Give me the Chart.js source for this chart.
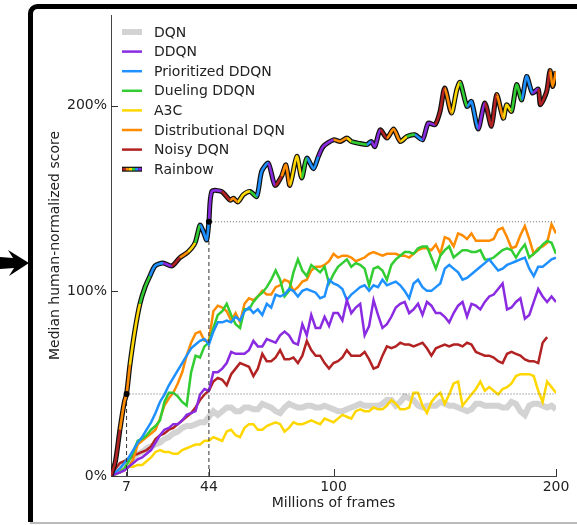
<!DOCTYPE html>
<html lang="en">
<head>
<meta charset="UTF-8">
<title>Median human-normalized score</title>
<script src="https://cdn.jsdelivr.net/npm/chart.js"></script>
<style>
  html, body { margin: 0; padding: 0; background: #fff; }
  canvas { display: block; }
</style>
</head>
<body>
<canvas id="chart" width="577" height="525"></canvas>
<script>
// frames in millions, one value every 2M frames
const frames = [
  0, 2, 4, 6, 8, 10, 12, 14, 16, 18,
  20, 22, 24, 26, 28, 30, 32, 34, 36, 38,
  40, 42, 44, 46, 48, 50, 52, 54, 56, 58,
  60, 62, 64, 66, 68, 70, 72, 74, 76, 78,
  80, 82, 84, 86, 88, 90, 92, 94, 96, 98,
  100, 102, 104, 106, 108, 110, 112, 114, 116, 118,
  120, 122, 124, 126, 128, 130, 132, 134, 136, 138,
  140, 142, 144, 146, 148, 150, 152, 154, 156, 158,
  160, 162, 164, 166, 168, 170, 172, 174, 176, 178,
  180, 182, 184, 186, 188, 190, 192, 194, 196, 198,
  200];

const dqn = [
  0, 2, 5, 7, 9, 10, 12, 13, 15, 16,
  17, 18, 20, 21, 23, 24, 26, 27, 27, 28,
  29, 29, 32, 35, 33, 35, 37, 37, 35, 35,
  37, 37, 36, 36, 39, 38, 37, 35, 34, 37,
  39, 38, 37, 37, 38, 38, 37, 37, 38, 37,
  36, 35, 35, 36, 37, 38, 39, 38, 38, 38,
  38, 39, 41, 41, 38, 40, 43, 42, 41, 38,
  37, 38, 38, 38, 40, 39, 38, 38, 37, 36,
  35, 36, 39, 39, 38, 38, 38, 38, 37, 37,
  40, 39, 35, 33, 38, 39, 39, 38, 37, 38,
  36];
const ddqn = [
  0, 1, 2, 3, 5, 7, 9, 10, 12, 14,
  18, 22, 25, 26, 28, 28, 30, 33, 34, 35,
  44, 47, 46, 56, 56, 58, 61, 67, 66, 66,
  66, 68, 73, 70, 70, 74, 73, 72, 76, 78,
  76, 72, 71, 82, 76, 87, 80, 80, 86, 81,
  88, 88, 84, 95, 88, 91, 93, 76, 81, 95,
  87, 80, 82, 86, 91, 93, 94, 88, 90, 93,
  87, 94, 92, 88, 88, 86, 83, 88, 92, 94,
  86, 93, 92, 90, 94, 97, 98, 101, 104, 90,
  91, 94, 96, 85, 87, 94, 101, 97, 94, 97,
  94];
const prioritized = [
  0, 2, 4, 7, 10, 14, 18, 21, 25, 29,
  34, 40, 44, 49, 53, 57, 61, 65, 69, 71,
  73, 74, 71, 78, 83, 83, 84, 83, 86, 84,
  89, 91, 88, 90, 87, 93, 91, 98, 97, 98,
  101, 100, 97, 100, 101, 100, 99, 96, 97, 106,
  104, 103, 101, 95, 98, 100, 102, 103, 100, 103,
  102, 106, 103, 104, 105, 103, 100, 96, 104, 106,
  102, 100, 100, 102, 104, 112, 114, 112, 110, 106,
  107, 109, 111, 113, 115, 117, 114, 111, 112, 114,
  115, 116, 117, 118, 112, 108, 113, 113, 115, 117,
  118];
const dueling = [
  0, 1, 2, 4, 8, 13, 19, 20, 22, 25,
  27, 30, 40, 45, 45, 43, 40, 38, 56, 65,
  64, 70, 72, 80, 87, 89, 93, 87, 82, 80,
  90, 90, 94, 97, 99, 102, 106, 111, 106, 97,
  100, 110, 117, 111, 108, 114, 112, 110, 113, 104,
  109, 113, 115, 117, 113, 115, 114, 112, 103, 112,
  113, 111, 106, 114, 117, 119, 121, 121, 120, 123,
  124, 124, 118, 112, 119, 122, 124, 118, 120, 122,
  122, 121, 121, 122, 117, 117, 118, 120, 122, 123,
  122, 118, 122, 125, 118, 120, 122, 125, 127, 126,
  120];
const a3c = [
  0, 1, 3, 4, 5, 5, 6, 6, 8, 10,
  13, 14, 13, 13, 12, 12, 14, 15, 16, 17,
  17, 19, 19, 21, 20, 19, 24, 25, 22, 21,
  26, 28, 28, 25, 25, 27, 28, 29, 28, 24,
  26, 29, 28, 28, 29, 30, 29, 28, 31, 30,
  29, 31, 33, 32, 31, 35, 36, 35, 35, 37,
  36, 36, 38, 41, 39, 36, 36, 37, 45, 45,
  38, 34, 40, 43, 45, 39, 44, 50, 51, 38,
  41, 44, 47, 51, 46, 48, 46, 44, 47, 48,
  50, 54, 55, 55, 55, 54, 46, 40, 51, 48,
  45];
const distributional = [
  0, 1, 2, 3, 5, 9, 17, 19, 21, 23,
  25, 31, 38, 42, 45, 50, 56, 65, 72, 77,
  78, 73, 73, 89, 92, 91, 89, 84, 88, 83,
  93, 96, 95, 97, 100, 98, 98, 102, 103, 106,
  105, 100, 102, 105, 106, 111, 113, 113, 114, 116,
  120, 118, 119, 119, 118, 116, 117, 118, 120, 121,
  120, 119, 120, 120, 120, 119, 119, 118, 120, 122,
  123, 123, 122, 125, 120, 129, 128, 124, 131, 130,
  128, 131, 127, 127, 127, 127, 128, 133, 134, 129,
  123, 124, 130, 135, 128, 120, 123, 124, 126, 136,
  131];
const noisy = [
  0, 4, 7, 8, 9, 11, 12, 13, 14, 16,
  20, 22, 23, 25, 26, 28, 30, 32, 34, 37,
  41, 44, 46, 51, 53, 52, 49, 55, 58, 61,
  60, 59, 54, 58, 66, 62, 62, 64, 68, 63,
  63, 64, 61, 65, 73, 68, 65, 65, 61, 58,
  61, 62, 64, 68, 65, 65, 65, 67, 63, 58,
  59, 65, 70, 69, 70, 72, 71, 71, 70, 71,
  72, 69, 65, 69, 70, 71, 70, 71, 71, 70,
  72, 71, 67, 66, 65, 65, 64, 62, 61, 66,
  67, 66, 65, 63, 62, 62, 61, 72, 75, null,
  null];

// Rainbow has its own sampling
const rainbowFrames = [0, 2, 4, 6, 7, 8.5, 10.8, 13, 15.3, 17.5, 19.8, 23.4, 27.4, 31, 34.6, 37.8, 40, 41.5, 43, 44,
  45.3, 49.7, 53.5, 55, 57, 59.5, 62.5, 65.5, 67.7, 70.7, 73.7, 76.7, 78.6, 80.4, 83.5, 85.7, 88, 91, 93.2, 95.4,
  100, 103, 106, 108, 111, 115, 117, 118.6, 121, 124, 127, 130, 133, 136.6, 140, 142.6, 145.6, 147.9, 150, 153,
  155.4, 156.9, 160, 162, 165, 168, 171, 173.3, 176.3, 177.8, 180, 182.3, 184.6, 186.8, 189.4, 192, 193, 195.8, 197.3, 198.5, 200];
const rainbowScore = [0, 8, 25, 40, 44.3, 60, 79, 93, 102, 108, 113.5, 115, 113.5, 118, 121, 126, 135.5, 132, 127.5, 137.3,
  153.7, 153.7, 149, 150, 148, 152, 153.7, 151, 164.5, 169, 157, 162, 168, 157, 172.6, 161, 171.7, 166, 172.6, 178,
  181.6, 180.7, 182.5, 180.7, 179.8, 179, 180.7, 178, 187, 182.5, 187.4, 180.7, 183.4, 184.3, 181.6, 190.6, 189.7, 197, 209.6, 196,
  208.6, 212.6, 199.6, 202.3, 187.4, 201.5, 189, 206, 193.3, 200.5, 197, 211.4, 203.2, 215.8, 206.9, 209, 200.5, 207.7, 219, 210.4, 218.6];

// where Rainbow matches DQN's final score and the best baselines
const markerFrames = [7, 44];
const markerScores = [44.3, 137.3];

const xTicks = [7, 44, 100, 200];
const yTicks = [0, 100, 200];

const RED = '#b22222', ORANGE = '#ff8c00', YELLOW = '#ffd700', GREEN = '#32cd32', BLUE = '#1e90ff', PURPLE = '#8a2be2';
const rainbowColors = [RED, ORANGE, YELLOW, GREEN, BLUE, PURPLE];
const FONT = { family: '"DejaVu Sans", sans-serif', size: 14 };
const TEXT = '#222';

function pts(xs, ys) {
  return xs.map((x, i) => ({ x: x, y: ys[i] }));
}

const series = [
  { label: 'DQN', values: dqn, color: '#d3d3d3', width: 6 },
  { label: 'DDQN', values: ddqn, color: PURPLE, width: 2.5 },
  { label: 'Prioritized DDQN', values: prioritized, color: BLUE, width: 2.5 },
  { label: 'Dueling DDQN', values: dueling, color: GREEN, width: 2.5 },
  { label: 'A3C', values: a3c, color: YELLOW, width: 2.5 },
  { label: 'Distributional DQN', values: distributional, color: ORANGE, width: 2.5 },
  { label: 'Noisy DQN', values: noisy, color: RED, width: 2.5 },
];

const datasets = [];
series.forEach((s, i) => {
  datasets.push({
    label: s.label,
    data: pts(frames, s.values),
    borderColor: s.color,
    borderWidth: s.width,
    pointRadius: 0,
    tension: 0,
    order: s.label === 'DQN' ? 30 : 10 + i
  });
});

markerFrames.forEach((mf, i) => {
  datasets.push({
    data: [{ x: mf, y: 0 }, { x: mf, y: markerScores[i] }],
    borderColor: '#333', borderWidth: 1, borderDash: [4, 3], pointRadius: 0, order: 3
  });
  datasets.push({
    data: [{ x: mf, y: markerScores[i] }, { x: 200, y: markerScores[i] }],
    borderColor: '#666', borderWidth: 1, borderDash: [1, 2], pointRadius: 0, order: 3
  });
});

// black outline under the coloured rainbow line
datasets.push({
  data: pts(rainbowFrames, rainbowScore),
  borderColor: '#111', borderWidth: 5, pointRadius: 0, tension: 0.25, order: 2
});
datasets.push({
  label: 'Rainbow',
  data: pts(rainbowFrames, rainbowScore),
  borderWidth: 2.6, pointRadius: 0, tension: 0.25, order: 1,
  borderColor: RED,
  segment: { borderColor: c => rainbowColors[Math.floor(c.p0.parsed.x / 4) % 6] }
});
datasets.push({
  data: pts(markerFrames, markerScores),
  showLine: false, pointRadius: 3, pointBackgroundColor: '#000', pointBorderWidth: 0, order: 0
});

const frameDecor = {
  id: 'frameDecor',
  beforeDraw(chart) {
    const ctx = chart.ctx;
    ctx.save();
    ctx.fillStyle = '#fff';
    ctx.fillRect(0, 0, chart.width, chart.height);
    // gray bottom edge
    ctx.fillStyle = '#bbb';
    ctx.fillRect(30, 522, chart.width, 2);
    // black rounded frame
    ctx.strokeStyle = '#000';
    ctx.lineWidth = 5;
    ctx.beginPath();
    ctx.moveTo(30.5, 522);
    ctx.lineTo(30.5, 14);
    ctx.arcTo(30.5, 6.5, 40, 6.5, 7);
    ctx.lineTo(chart.width + 5, 6.5);
    ctx.stroke();
    // arrow pointing at the frame
    ctx.fillStyle = '#000';
    ctx.beginPath();
    ctx.moveTo(0, 257);
    ctx.lineTo(13, 258);
    ctx.lineTo(8, 250);
    ctx.lineTo(29, 263);
    ctx.lineTo(9, 276);
    ctx.lineTo(14, 268);
    ctx.lineTo(0, 269);
    ctx.closePath();
    ctx.fill();
    ctx.restore();
  }
};

const innerTicks = {
  id: 'innerTicks',
  afterDraw(chart) {
    const ctx = chart.ctx, xs = chart.scales.x, ys = chart.scales.y;
    const a = chart.chartArea;
    ctx.save();
    ctx.strokeStyle = '#333';
    ctx.lineWidth = 1;
    ctx.beginPath();
    xTicks.forEach(v => {
      const px = Math.round(xs.getPixelForValue(v)) + 0.5;
      ctx.moveTo(px, a.bottom);
      ctx.lineTo(px, a.bottom - 7);
    });
    yTicks.forEach(v => {
      const py = Math.round(ys.getPixelForValue(v)) + 0.5;
      ctx.moveTo(a.left, py);
      ctx.lineTo(a.left + 7, py);
    });
    ctx.stroke();
    ctx.restore();
  }
};

const lineLegend = {
  id: 'lineLegend',
  afterDraw(chart) {
    const ctx = chart.ctx;
    const x0 = 122, x1 = 142, tx = 154;
    const entries = series.concat([{ label: 'Rainbow', rainbow: true }]);
    ctx.save();
    ctx.font = '14px "DejaVu Sans", sans-serif';
    ctx.textBaseline = 'middle';
    ctx.fillStyle = TEXT;
    entries.forEach((e, i) => {
      const y = 32 + i * 19.6;
      if (e.rainbow) {
        ctx.strokeStyle = '#111';
        ctx.lineWidth = 5;
        ctx.beginPath(); ctx.moveTo(x0, y); ctx.lineTo(x1, y); ctx.stroke();
        const w = (x1 - x0 - 1) / 6;
        rainbowColors.forEach((c, k) => {
          ctx.strokeStyle = c;
          ctx.lineWidth = 2.6;
          ctx.beginPath();
          ctx.moveTo(x0 + 0.5 + k * w, y);
          ctx.lineTo(x0 + 0.5 + (k + 1) * w, y);
          ctx.stroke();
        });
      } else {
        ctx.strokeStyle = e.color;
        ctx.lineWidth = e.width;
        ctx.beginPath(); ctx.moveTo(x0, y); ctx.lineTo(x1, y); ctx.stroke();
      }
      ctx.fillText(e.label, tx, y + 1);
    });
    ctx.restore();
  }
};

new Chart(document.getElementById('chart'), {
  type: 'line',
  data: { datasets: datasets },
  options: {
    responsive: false,
    animation: false,
    layout: { padding: { left: 0, top: 15, right: 21, bottom: 0 } },
    plugins: { legend: { display: false }, tooltip: { enabled: false } },
    scales: {
      x: {
        type: 'linear', min: 0, max: 200,
        afterBuildTicks: s => { s.ticks = xTicks.map(v => ({ value: v })); },
        afterFit: s => { s.height = 49; },
        grid: { display: false, drawTicks: false },
        border: { display: true, color: '#444', width: 1 },
        ticks: { font: FONT, color: TEXT, padding: 3, maxRotation: 0, autoSkip: false },
        title: { display: true, text: 'Millions of frames', font: FONT, color: TEXT, padding: { top: 0, bottom: 13 } }
      },
      y: {
        type: 'linear', min: 0, max: 249,
        afterBuildTicks: s => { s.ticks = yTicks.map(v => ({ value: v })); },
        afterFit: s => { s.width = 111; },
        grid: { display: false, drawTicks: false },
        border: { display: true, color: '#444', width: 1 },
        ticks: { font: FONT, color: TEXT, padding: 4, callback: v => v + '%' },
        title: { display: true, text: 'Median human-normalized score', font: FONT, color: TEXT, padding: { top: 47, bottom: 0 } }
      }
    }
  },
  plugins: [frameDecor, innerTicks, lineLegend]
});
</script>
</body>
</html>
